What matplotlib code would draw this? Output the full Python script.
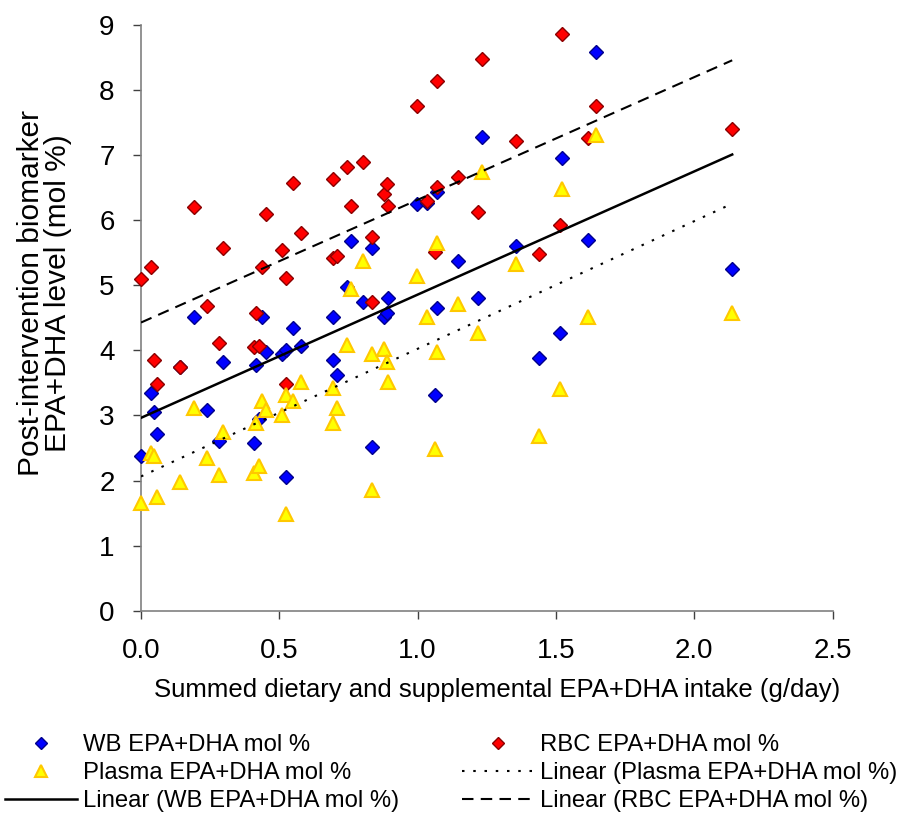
import matplotlib
matplotlib.use("Agg")
import matplotlib.pyplot as plt
from matplotlib.lines import Line2D
import numpy as np

plt.rcParams['font.family'] = ['Liberation Sans', 'DejaVu Sans']

# summed EPA+DHA intake (g/day), one entry per subject
intake = [0.000, 0.036, 0.047, 0.058, 0.141, 0.191, 0.238, 0.282, 0.296,
          0.408, 0.415, 0.426, 0.437, 0.451, 0.509, 0.523, 0.523, 0.549, 0.578,
          0.693, 0.693, 0.708, 0.744, 0.758, 0.801, 0.834, 0.834,
          0.877, 0.888, 0.892, 0.996, 1.032, 1.061, 1.069, 1.069,
          1.144, 1.217, 1.231, 1.357, 1.437, 1.513, 1.520, 1.617, 1.643, 2.137]

wb = [2.37, 3.35, 3.06, 2.72, 3.75, 4.52, 3.08, 2.60, 3.82,
      2.57, 3.77, 2.94, 4.52, 3.98, 3.94, 4.00, 2.06, 4.35, 4.06,
      4.52, 3.85, 3.62, 4.97, 5.68, 4.74, 5.57, 2.51,
      4.52, 4.57, 4.80, 6.25, 6.27, 3.31, 6.43, 4.65,
      5.38, 4.80, 7.28, 5.60, 3.88, 4.26, 6.95, 5.70, 8.58, 5.25]

rbc = [5.09, 5.28, 3.85, 3.49, 3.75, 6.20, 4.68, 4.12, 5.57,
       4.05, 4.57, 4.06, 5.28, 6.10, 5.54, 5.12, 3.48, 6.57, 5.80,
       6.63, 5.42, 5.45, 6.82, 6.22, 6.89, 5.74, 4.74,
       6.40, 6.55, 6.22, 7.75, 6.29, 5.51, 8.14, 6.51,
       6.66, 6.12, 8.48, 7.22, 5.48, 5.92, 8.86, 7.26, 7.75, 7.40]

plasma = [1.65, 2.43, 2.38, 1.74, 1.97, 3.12, 2.34, 2.09, 2.74,
          2.12, 2.89, 2.22, 3.22, 3.08, 3.00, 3.32, 1.49, 3.22, 3.51,
          3.42, 2.88, 3.11, 4.08, 4.94, 5.37, 3.95, 1.85,
          4.02, 3.82, 3.51, 5.14, 4.51, 2.48, 5.65, 3.98,
          4.71, 4.26, 6.74, 5.32, 2.68, 3.40, 6.48, 4.52, 7.31, 4.58]

x_ticks = [0.0, 0.5, 1.0, 1.5, 2.0, 2.5]
y_ticks = list(range(0, 10))

fig = plt.figure(figsize=(9.07, 8.15), dpi=100)
ax = fig.add_axes([0.1555, 0.2507, 0.7625, 0.7186])

x = np.array(intake)
wb_style = dict(marker='D', ms=7.0, mfc='#0000FF', mec='#00008B', mew=1.0, ls='none')
rbc_style = dict(marker='D', ms=7.0, mfc='#FF0000', mec='#8B0000', mew=1.0, ls='none')
pl_style = dict(marker='^', ms=9.5, mfc='#FFFF00', mec='#FFC800', mew=1.5, ls='none')

ax.plot(x, wb, zorder=3, clip_on=False, **wb_style)
ax.plot(x, rbc, zorder=4, clip_on=False, **rbc_style)
ax.plot(x, plasma, zorder=5, clip_on=False, **pl_style)

# linear trend lines over the data range
xs = np.array([x.min(), x.max()])
fit_pl = np.polyfit(x, plasma, 1)
fit_wb = np.polyfit(x, wb, 1)
fit_rbc = np.polyfit(x, rbc, 1)
pl_line = dict(color='black', lw=1.5, dashes=(1.2, 4.2))
wb_line = dict(color='black', lw=1.8)
rbc_line = dict(color='black', lw=1.5, dashes=(5.5, 3.5))
ax.plot(xs, np.polyval(fit_pl, xs), zorder=6, **pl_line)
ax.plot(xs, np.polyval(fit_wb, xs), zorder=6, **wb_line)
ax.plot(xs, np.polyval(fit_rbc, xs), zorder=6, **rbc_line)

ax.set_xlim(0, 2.5)
ax.set_ylim(0, 9)
ax.set_xticks(x_ticks)
ax.set_xticklabels([f"{t:.1f}" for t in x_ticks])
ax.set_yticks(y_ticks)
for s in ['top', 'right']:
    ax.spines[s].set_visible(False)
for s in ['left', 'bottom']:
    ax.spines[s].set_color('#808080')
    ax.spines[s].set_linewidth(1.2)
ax.tick_params(direction='out', length=6, width=1.0, color='#404040',
               labelsize=20)
ax.tick_params(axis='x', pad=14)
ax.tick_params(axis='y', pad=13)

fig.text(0.548, 0.153, "Summed dietary and supplemental EPA+DHA intake (g/day)",
         ha='center', va='center', fontsize=18.5)
fig.text(0.049, 0.64, "Post-intervention biomarker\nEPA+DHA level (mol %)",
         ha='center', va='center', rotation=90, fontsize=21.5, linespacing=0.93)

h_wb = Line2D([], [], **{**wb_style, 'ms': 6})
h_rbc = Line2D([], [], **{**rbc_style, 'ms': 6})
h_pl = Line2D([], [], **{**pl_style, 'ms': 8.5})
h_lpl = Line2D([], [], **pl_line)
h_lwb = Line2D([], [], **wb_line)
h_lrbc = Line2D([], [], **rbc_line)

leg_kw = dict(frameon=False, fontsize=17.2, handlelength=3.0, handletextpad=0.28,
              labelspacing=0.26, borderpad=0, borderaxespad=0, loc='upper left')
fig.legend([h_wb, h_pl, h_lwb],
           ["WB EPA+DHA mol %", "Plasma EPA+DHA mol %",
            "Linear (WB EPA+DHA mol %)"],
           bbox_to_anchor=(5 / 907, 1 - 734 / 815), **leg_kw)
fig.legend([h_rbc, h_lpl, h_lrbc],
           ["RBC EPA+DHA mol %", "Linear (Plasma EPA+DHA mol %)",
            "Linear (RBC EPA+DHA mol %)"],
           bbox_to_anchor=(462 / 907, 1 - 734 / 815), **leg_kw)

fig.savefig("out.png", dpi=100)
